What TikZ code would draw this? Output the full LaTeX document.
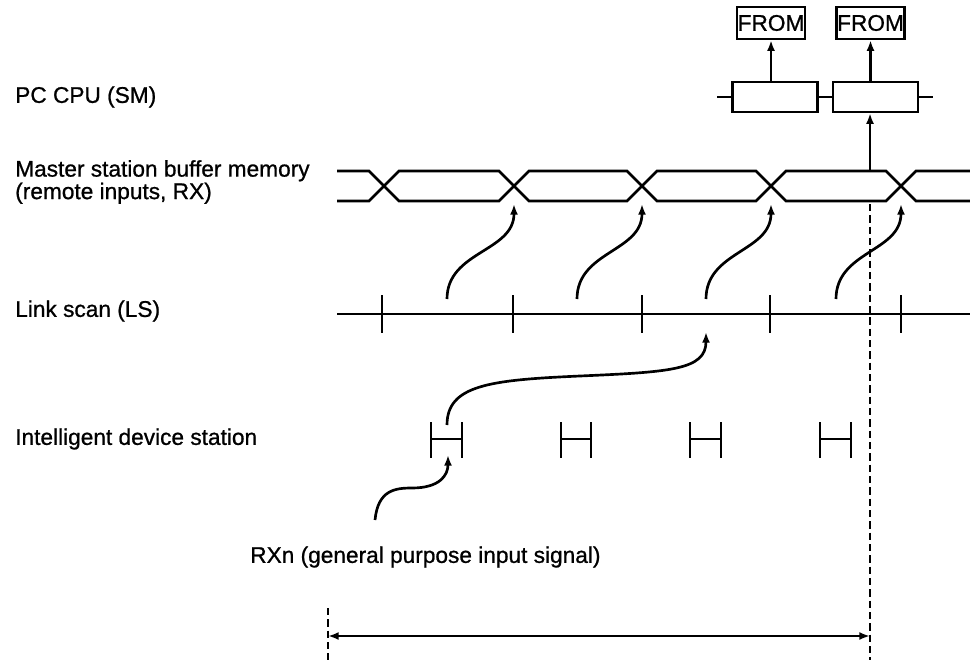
\documentclass[tikz,border=0pt]{standalone}
\usepackage{fontspec}
\setmainfont{Liberation Sans}[FakeBold=0.9]
\usetikzlibrary{arrows.meta,positioning}

\begin{document}
\begin{tikzpicture}[
		x=0.75pt, y=-0.75pt,
		>={Latex[length=8pt,width=6pt]},
		every node/.style={font=\fontsize{17pt}{15.75pt}\selectfont},
		rowtext/.style={anchor=west,align=left,inner sep=0pt},
		fromblk/.style={rectangle,draw,line width=1.8pt,minimum width=51pt,minimum height=24pt,inner sep=0.5pt},
		cpublk/.style ={rectangle,draw,line width=1.8pt,minimum width=64pt,minimum height=22.5pt,inner sep=0pt},
		wire/.style   ={line width=2pt},
		link/.style   ={draw,->,line width=2pt},
		guide/.style  ={line width=1.4pt,dash pattern=on 5.5pt off 3pt}
		]
		\useasboundingbox (0,0) rectangle (970,660);

		% ---- row labels ----
		\node[rowtext] (lblcpu)     at (15,97)  {PC CPU (SM)};
		\node[rowtext] (lblbuf)     at (15,182) {Master station buffer memory\\(remote inputs, RX)};
		\node[rowtext] (lblscan)    at (15,311) {Link scan (LS)};
		\node[rowtext] (lblstation) at (15,439) {Intelligent device station};
		\node[rowtext] (lblrxn)     at (250,557) {RXn (general purpose input signal)};

		% ---- PC CPU scans and FROM instructions ----
		\node[fromblk] (fromA) at (771,23)   {FROM};
		\node[fromblk] (fromB) at (870.5,23) {FROM};
		\node[cpublk]  (cpuA)  at (775,97)   {};
		\node[cpublk]  (cpuB)  at (875.5,97) {};
		\coordinate (cpuin)  at (717,97);
		\coordinate (cpuout) at (933,97);

		\draw[wire] (cpuin) -- (cpuA.west);
		\draw[wire] (cpuA.east) -- (cpuB.west);
		\draw[wire] (cpuB.east) -- (cpuout);
		\draw[link] (fromA.south |- cpuA.north) -- (fromA.south);
		\draw[link] (fromB.south |- cpuB.north) -- (fromB.south);

		% ---- buffer memory (RX) data changes ----
		\draw[wire] (337,171) -- (369,171) -- (399,201) -- (499,201) -- (529,171) -- (627,171)
			-- (657,201) -- (756,201) -- (786,171) -- (886,171) -- (916,201) -- (970,201);
		\draw[wire] (337,201) -- (369,201) -- (399,171) -- (499,171) -- (529,201) -- (627,201)
			-- (657,171) -- (756,171) -- (786,201) -- (886,201) -- (916,171) -- (970,171);
		\coordinate (bufout) at (870,171);
		\draw[link] (bufout) -- (bufout |- cpuB.south);

		% ---- link scan ----
		\draw[wire] (337,314) -- (970,314);
		\draw[wire] (382,295) -- (382,333);
		\draw[wire] (513,295) -- (513,333);
		\draw[wire] (642,295) -- (642,333);
		\draw[wire] (770,295) -- (770,333);
		\draw[wire] (901,295) -- (901,333);

		% ---- link scan -> buffer memory refresh ----
		\coordinate (scan1) at (447,299);  \coordinate (upd1) at (514,204);
		\coordinate (scan2) at (577,299);  \coordinate (upd2) at (642,204);
		\coordinate (scan3) at (706,299);  \coordinate (upd3) at (771,204);
		\coordinate (scan4) at (836,299);  \coordinate (upd4) at (901,204);
		\draw[link] (scan1) .. controls +(0,-48) and +(0,48) .. (upd1);
		\draw[link] (scan2) .. controls +(0,-48) and +(0,48) .. (upd2);
		\draw[link] (scan3) .. controls +(0,-48) and +(0,48) .. (upd3);
		\draw[link] (scan4) .. controls +(0,-48) and +(0,48) .. (upd4);

		% ---- intelligent device station ----
		\draw[wire] (431,422) -- (431,458) (431,439) -- (462,439) (462,422) -- (462,458);
		\draw[wire] (561,422) -- (561,458) (561,439) -- (591,439) (591,422) -- (591,458);
		\draw[wire] (690,422) -- (690,458) (690,439) -- (721,439) (721,422) -- (721,458);
		\draw[wire] (820,422) -- (820,458) (820,439) -- (851,439) (851,422) -- (851,458);

		% ---- RXn -> station -> link scan ----
		\coordinate (rxnout) at (375,520);
		\coordinate (stnin)  at (448,455);
		\coordinate (stnout) at (447,425);
		\coordinate (scanin) at (706,332);
		\draw[link] (rxnout) .. controls (378,490) and (395,488) .. (412,488)
			.. controls (440,488) and (448,475) .. (stnin);
		\draw[link] (stnout) .. controls (447,385) and (490,380) .. (580,376)
			.. controls (670,372) and (706,370) .. (scanin);

		% ---- transmission delay span ----
		\coordinate (spanL) at (328,636);
		\coordinate (spanR) at (870,636);
		\draw[guide] (bufout |- upd4) -- (870,660);
		\draw[guide] (328,608) -- (328,660);
		\draw[link,<->] (spanL) -- (spanR);

	\end{tikzpicture}
\end{document}
